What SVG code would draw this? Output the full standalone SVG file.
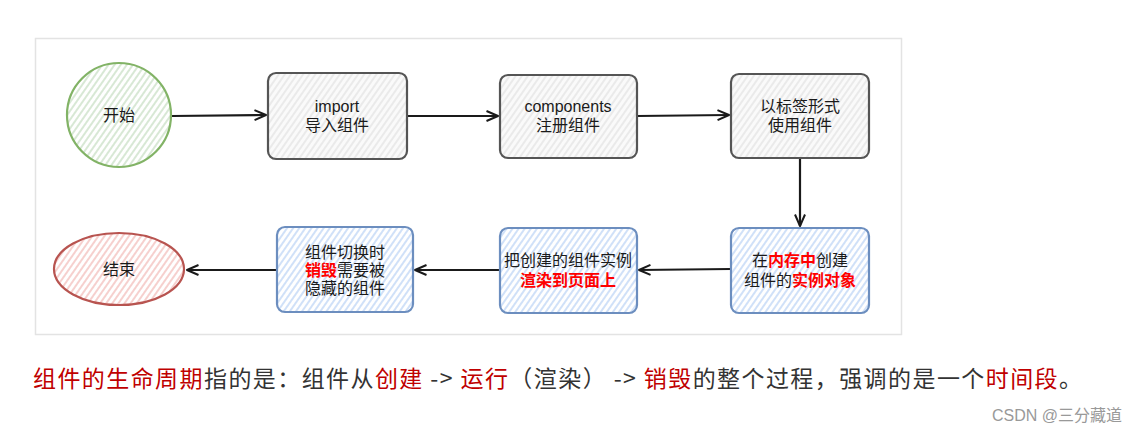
<svg xmlns="http://www.w3.org/2000/svg" width="1130" height="435" viewBox="0 0 1130 435">
<defs>
<pattern id="hg" width="5" height="5" patternUnits="userSpaceOnUse" patternTransform="rotate(35)"><rect width="5" height="5" fill="#fff"/><line x1="1" y1="0" x2="1" y2="5" stroke="#c3dcbf" stroke-width="1.3"/></pattern>
<pattern id="hk" width="5" height="5" patternUnits="userSpaceOnUse" patternTransform="rotate(35)"><rect width="5" height="5" fill="#fafafa"/><line x1="1" y1="0" x2="1" y2="5" stroke="#e2e2e2" stroke-width="1.3"/></pattern>
<pattern id="hb" width="5" height="5" patternUnits="userSpaceOnUse" patternTransform="rotate(35)"><rect width="5" height="5" fill="#fff"/><line x1="1" y1="0" x2="1" y2="5" stroke="#bcd4f5" stroke-width="1.4"/></pattern>
<pattern id="hr" width="5" height="5" patternUnits="userSpaceOnUse" patternTransform="rotate(35)"><rect width="5" height="5" fill="#fff"/><line x1="1" y1="0" x2="1" y2="5" stroke="#f3bcb9" stroke-width="1.4"/></pattern>
<marker id="arr" viewBox="0 0 14 14" refX="13" refY="7" markerWidth="14" markerHeight="14" markerUnits="userSpaceOnUse" orient="auto"><path d="M1.5,2 L13,7 L1.5,12" fill="none" stroke="#1a1a1a" stroke-width="2" stroke-linejoin="round"/></marker>
<style>
.t{font-family:"Liberation Sans","Noto Sans CJK SC",sans-serif;font-size:16px;fill:#1a1a1a;text-anchor:middle}
.r{fill:#ff0000;font-weight:bold}
.gbox{fill:url(#hk);stroke:#555;stroke-width:2.2}
.bbox{fill:url(#hb);stroke:#6c8ebf;stroke-width:2.2}
.c{fill:none;stroke:#1a1a1a;stroke-width:2.2;marker-end:url(#arr)}
.cap{font-family:"Noto Sans CJK SC",sans-serif;font-size:23px;fill:#333}
.cr{fill:#c00000}
</style>
</defs>
<rect x="35.5" y="38.5" width="866" height="296" fill="#fff" stroke="#e3e3e3" stroke-width="1.5"/>
<g id="connectors">
<path class="c" d="M172,116 L266,115"/>
<path class="c" d="M407,116 L498,116"/>
<path class="c" d="M637,116 L729,115"/>
<path class="c" d="M800,158 L800,226"/>
<path class="c" d="M731,269 L639,270"/>
<path class="c" d="M500,270 L415,270"/>
<path class="c" d="M277,270 L187,270"/>
</g>
<g id="start">
<circle cx="119" cy="115" r="52" fill="url(#hg)" stroke="#82b366" stroke-width="2.2"/>
<text class="t" x="119" y="121">开始</text>
</g>
<g id="import">
<rect class="gbox" x="268" y="73" width="139" height="86" rx="8"/>
<text class="t" x="337" y="112">import</text>
<text class="t" x="337" y="131">导入组件</text>
</g>
<g id="components">
<rect class="gbox" x="500" y="75" width="137" height="83" rx="8"/>
<text class="t" x="568" y="112">components</text>
<text class="t" x="568" y="131">注册组件</text>
</g>
<g id="tag">
<rect class="gbox" x="731" y="74" width="138" height="84" rx="8"/>
<text class="t" x="800" y="112">以标签形式</text>
<text class="t" x="800" y="131">使用组件</text>
</g>
<g id="create">
<rect class="bbox" x="731" y="228" width="138" height="85" rx="8"/>
<text class="t" x="800" y="266">在<tspan class="r">内存中</tspan>创建</text>
<text class="t" x="800" y="286">组件的<tspan class="r">实例对象</tspan></text>
</g>
<g id="render">
<rect class="bbox" x="500" y="228" width="137" height="85" rx="8"/>
<text class="t" x="568" y="266">把创建的组件实例</text>
<text class="t r" x="568" y="286">渲染到页面上</text>
</g>
<g id="destroy">
<rect class="bbox" x="277" y="227" width="136" height="85" rx="8"/>
<text class="t" x="345" y="258">组件切换时</text>
<text class="t" x="345" y="276"><tspan class="r">销毁</tspan>需要被</text>
<text class="t" x="345" y="294">隐藏的组件</text>
</g>
<g id="end">
<ellipse cx="119" cy="269" rx="65" ry="36" fill="url(#hr)" stroke="#b85450" stroke-width="2.2"/>
<text class="t" x="119" y="275">结束</text>
</g>
<text class="cap" x="33" y="387" textLength="1049" lengthAdjust="spacing"><tspan class="cr">组件的生命周期</tspan>指的是：组件从<tspan class="cr">创建</tspan> -&gt; <tspan class="cr">运行</tspan>（渲染） -&gt; <tspan class="cr">销毁</tspan>的整个过程，强调的是一个<tspan class="cr">时间段</tspan>。</text>
<text x="1122" y="421" font-family="Liberation Sans,Noto Sans CJK SC,sans-serif" font-size="16" fill="#999" text-anchor="end">CSDN @三分藏道</text>
</svg>
